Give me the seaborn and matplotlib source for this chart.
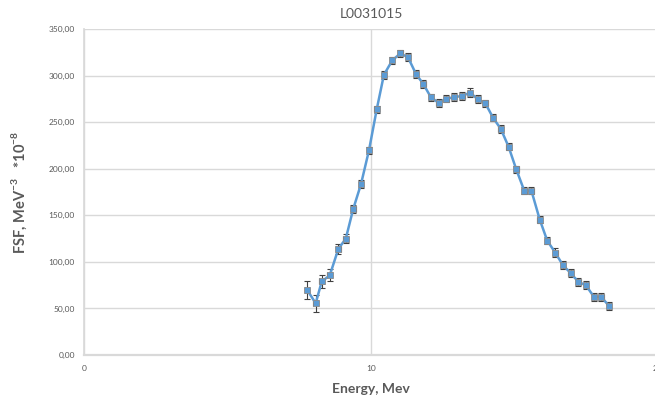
import matplotlib
matplotlib.use("Agg")
import matplotlib.pyplot as plt
import seaborn as sns
import pandas as pd
from matplotlib.ticker import FuncFormatter, MultipleLocator

# Fission spectrum factor vs. neutron energy
energy = [7.77, 8.07, 8.28, 8.56, 8.86, 9.12, 9.38, 9.65, 9.93, 10.20,
          10.45, 10.74, 11.02, 11.29, 11.57, 11.83, 12.09, 12.36, 12.63, 12.90,
          13.19, 13.46, 13.72, 13.99, 14.26, 14.53, 14.80, 15.07, 15.35, 15.60,
          15.89, 16.15, 16.43, 16.70, 16.97, 17.24, 17.50, 17.78, 18.04, 18.31]
fsf = [70.0, 55.5, 79.0, 85.5, 114.0, 125.0, 157.0, 183.5, 220.0, 264.0,
       301.0, 316.5, 324.0, 320.0, 302.0, 291.0, 277.0, 271.0, 275.5, 277.0,
       278.5, 282.0, 275.0, 270.5, 255.0, 243.0, 224.0, 199.5, 176.5, 176.5,
       145.5, 123.0, 110.0, 96.5, 88.0, 78.5, 75.0, 62.5, 62.5, 52.5]
fsf_err = [10.0, 9.0, 7.5, 6.5, 5.5, 5.0, 4.5, 4.5, 4.0, 4.0,
           4.0, 4.0, 4.0, 4.0, 4.0, 4.0, 4.0, 4.0, 4.0, 4.5,
           4.5, 4.5, 4.0, 4.0, 4.0, 4.0, 4.0, 4.0, 4.0, 4.0,
           4.0, 4.0, 4.5, 4.5, 4.5, 4.5, 4.5, 4.5, 4.5, 4.5]
energy_err = [0.08] * len(energy)

df = pd.DataFrame({"energy": energy, "fsf": fsf})

sns.set_theme(style="white")
plt.rcParams["font.family"] = ["Lato", "DejaVu Sans"]
plt.rcParams["mathtext.fontset"] = "custom"
plt.rcParams["mathtext.rm"] = "Lato"
plt.rcParams["mathtext.bf"] = "Lato:bold"

text_gray = "#595959"
grid_gray = "#d9d9d9"
blue = "#5b9bd5"

fig = plt.figure(figsize=(6.55, 3.95), dpi=100)
ax = fig.add_axes([84.5 / 655, 40 / 395, 573 / 655, 325.7 / 395])

sns.lineplot(data=df, x="energy", y="fsf", ax=ax, color=blue, linewidth=1.8,
             marker="s", markersize=5, markerfacecolor=blue,
             markeredgecolor="#8c8c8c", markeredgewidth=0.6, zorder=3)
ax.errorbar(energy, fsf, yerr=fsf_err, xerr=energy_err, fmt="none",
            ecolor="#404040", elinewidth=0.8, capsize=2.2, capthick=0.8, zorder=2)

ax.set_xlim(0, 20)
ax.set_ylim(0, 350)
ax.xaxis.set_major_locator(MultipleLocator(10))
ax.yaxis.set_major_locator(MultipleLocator(50))
ax.yaxis.set_major_formatter(FuncFormatter(lambda v, _: f"{v:.2f}".replace(".", ",")))

ax.grid(True, color=grid_gray, linewidth=1.0)
ax.set_axisbelow(True)
for side in ("top", "right"):
    ax.spines[side].set_visible(False)
ax.spines["left"].set_color(grid_gray)
ax.spines["bottom"].set_color(grid_gray)
ax.spines["bottom"].set_linewidth(1.6)
ax.tick_params(axis="both", colors=grid_gray, labelcolor=text_gray, labelsize=6,
               length=3, width=0.8, direction="out", pad=4)

ax.set_xlabel("Energy, Mev", fontsize=10, fontweight="bold", color=text_gray, labelpad=8)
ax.set_ylabel(r"FSF, MeV$^{\mathbf{-3}}$   *10$^{\mathbf{-8}}$", fontsize=10.5,
              fontweight="bold", color=text_gray, labelpad=14)
fig.text(371 / 655, 1 - 14 / 395, "L0031015", ha="center", va="center",
         fontsize=10, color=text_gray)

fig.savefig("out.png", dpi=100)
